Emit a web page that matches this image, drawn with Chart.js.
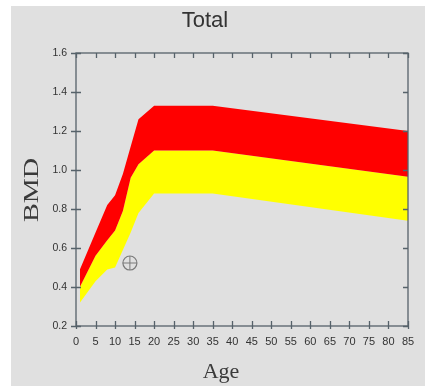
<!DOCTYPE html>
<html>
<head>
<meta charset="utf-8">
<script src="https://cdn.jsdelivr.net/npm/chart.js@4/dist/chart.umd.min.js"></script>
<style>
html,body{margin:0;padding:0;background:#fff;}
#wrap{width:425px;height:386px;}
</style>
</head>
<body>
<div id="wrap"><canvas id="c" width="425" height="386"></canvas></div>
<script>
// ---- data ----
const ages      = [1, 5, 8, 10, 12, 14, 16, 20, 35, 85];
const upperBMD  = [0.49, 0.68, 0.82, 0.87, 0.98, 1.12, 1.26, 1.33, 1.33, 1.20];
const middleBMD = [0.40, 0.56, 0.64, 0.69, 0.79, 0.96, 1.03, 1.10, 1.10, 0.965];
const lowerBMD  = [0.32, 0.43, 0.49, 0.50, 0.59, 0.68, 0.78, 0.88, 0.88, 0.74];
const markerAge = [13.8];
const markerBMD = [0.523];
const xTicks = [0,5,10,15,20,25,30,35,40,45,50,55,60,65,70,75,80,85];
const yTicks = [0.2,0.4,0.6,0.8,1.0,1.2,1.4,1.6];
const titleText = 'Total';
const xTitle = 'Age';
const yTitle = 'BMD';

const pts = (xs, ys) => xs.map((x, i) => ({x: x, y: ys[i]}));
const AXIS = '#56626a';

const framePlugin = {
  id: 'frame',
  beforeDraw(chart) {
    const ctx = chart.ctx;
    ctx.save();
    ctx.fillStyle = '#ffffff';
    ctx.fillRect(0, 0, chart.width, chart.height);
    ctx.fillStyle = '#e0e0e0';
    ctx.fillRect(11, 6, chart.width - 11, chart.height - 6);
    ctx.restore();
  },
  afterDraw(chart) {
    const ctx = chart.ctx;
    const a = chart.chartArea;
    const xs = chart.scales.x, ys = chart.scales.y;
    ctx.save();
    ctx.strokeStyle = AXIS;
    ctx.lineWidth = 1.3;
    ctx.strokeRect(a.left, a.top, a.right - a.left, a.bottom - a.top);
    ctx.beginPath();
    xTicks.forEach(v => {
      const px = Math.round(xs.getPixelForValue(v)) + 0.5;
      ctx.moveTo(px, a.bottom - 5); ctx.lineTo(px, a.bottom + 3);
      ctx.moveTo(px, a.top); ctx.lineTo(px, a.top + 5);
    });
    yTicks.forEach(v => {
      const py = Math.round(ys.getPixelForValue(v)) + 0.5;
      ctx.moveTo(a.left - 5, py); ctx.lineTo(a.left + 5, py);
      ctx.moveTo(a.right - 5, py); ctx.lineTo(a.right, py);
    });
    ctx.stroke();

    // titles
    ctx.fillStyle = '#333333';
    ctx.textAlign = 'center';
    ctx.textBaseline = 'middle';
    ctx.font = '22px "Liberation Sans", Arial, sans-serif';
    ctx.fillText(titleText, 205, 21);
    ctx.fillStyle = '#3a3a3a';
    ctx.font = '22px "Liberation Serif", "Times New Roman", serif';
    ctx.fillText(xTitle, 221, 372);
    ctx.save();
    ctx.translate(32, 190);
    ctx.rotate(-Math.PI / 2);
    ctx.scale(1.28, 1);
    ctx.fillText(yTitle, 0, 0);
    ctx.restore();
    ctx.restore();
  }
};

new Chart(document.getElementById('c'), {
  type: 'line',
  data: {
    datasets: [
      {label: 'upper', data: pts(ages, upperBMD), fill: '+1', backgroundColor: '#ff0000',
       borderWidth: 0, borderColor: 'rgba(0,0,0,0)', pointRadius: 0, tension: 0},
      {label: 'middle', data: pts(ages, middleBMD), fill: '+1', backgroundColor: '#ffff00',
       borderWidth: 0, borderColor: 'rgba(0,0,0,0)', pointRadius: 0, tension: 0},
      {label: 'lower', data: pts(ages, lowerBMD), fill: false,
       borderWidth: 0, borderColor: 'rgba(0,0,0,0)', pointRadius: 0, tension: 0},
      {label: 'marker', data: pts(markerAge, markerBMD), showLine: false, fill: false,
       pointStyle: 'circle', pointRadius: 7, pointBorderWidth: 1.2,
       pointBorderColor: '#7a7a7a', pointBackgroundColor: 'rgba(0,0,0,0)'},
      {label: 'markerCross', data: pts(markerAge, markerBMD), showLine: false, fill: false,
       pointStyle: 'cross', pointRadius: 7, pointBorderWidth: 1,
       pointBorderColor: '#7a7a7a', pointBackgroundColor: 'rgba(0,0,0,0)'}
    ]
  },
  options: {
    responsive: false,
    animation: false,
    events: [],
    layout: {padding: {top: 53, right: 17, left: 0, bottom: 0}},
    plugins: {legend: {display: false}, tooltip: {enabled: false}, title: {display: false}},
    scales: {
      x: {
        type: 'linear', min: 0, max: 85,
        afterFit(s) { s.height = 60; },
        afterBuildTicks(s) { s.ticks = xTicks.map(v => ({value: v})); },
        grid: {display: false, drawTicks: false},
        border: {display: false},
        ticks: {color: '#333', font: {family: '"Liberation Sans", Arial, sans-serif', size: 11},
                padding: 9, maxRotation: 0, autoSkip: false}
      },
      y: {
        type: 'linear', min: 0.2, max: 1.6,
        afterFit(s) { s.width = 76; },
        afterBuildTicks(s) { s.ticks = yTicks.map(v => ({value: v})); },
        grid: {display: false, drawTicks: false},
        border: {display: false},
        ticks: {color: '#333', font: {family: '"Liberation Sans", Arial, sans-serif', size: 10.5},
                padding: 9, autoSkip: false, callback: v => v.toFixed(1)}
      }
    }
  },
  plugins: [framePlugin]
});
</script>
</body>
</html>
